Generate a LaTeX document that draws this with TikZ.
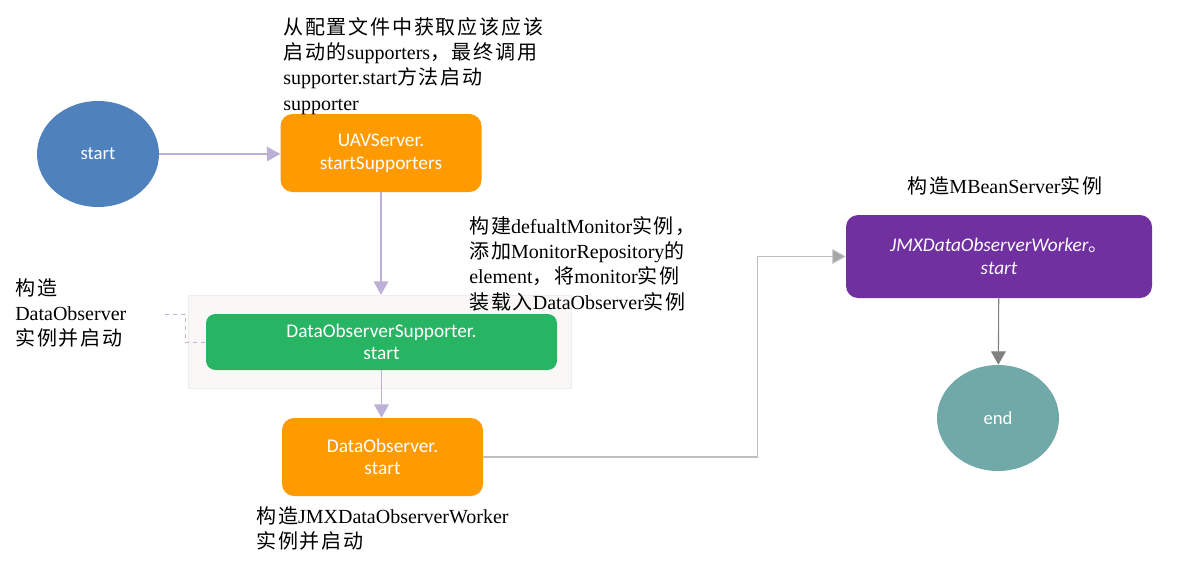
\documentclass[tikz,border=0pt]{standalone}
\usepackage{fontspec}
\setmainfont{Liberation Serif}
\newfontfamily\cjk[LetterSpace=9]{Noto Sans CJK SC}
\newfontfamily\boxfont{Carlito}
\usetikzlibrary{positioning, calc, arrows.meta, shapes.geometric}

\definecolor{startblue}{HTML}{4F81BD}
\definecolor{uavorange}{HTML}{FF9B00}
\definecolor{supgreen}{HTML}{27B463}
\definecolor{jmxpurple}{HTML}{7030A0}
\definecolor{endteal}{HTML}{71A9A9}
\definecolor{flowpurple}{HTML}{BCB0D8}
\definecolor{groupgray}{HTML}{F9F8F6}
\definecolor{groupline}{HTML}{EEEDEA}
\definecolor{linegray}{HTML}{BFBFBF}
\definecolor{tipgray}{HTML}{A6A6A6}
\definecolor{darkgray}{HTML}{808080}

\begin{document}
\begin{tikzpicture}
    [x=0.75pt, y=-0.75pt,
    roundnode/.style={ellipse, draw=none, minimum width=91.5pt, minimum height=79.5pt, text=white, font=\boxfont\fontsize{14}{16}\selectfont},
    squarednode/.style={rectangle, rounded corners=9pt, draw=none, text=white, align=center, minimum width=150.75pt, minimum height=58.5pt, font=\boxfont\fontsize{14.5}{17}\selectfont},
    groupnode/.style={rectangle, fill=groupgray, draw=groupline, minimum width=287.25pt, minimum height=69.75pt, inner sep=0pt},
    notenode/.style={align=left, anchor=north west, inner sep=0pt, font=\fontsize{15}{19}\selectfont},
    flow/.style={draw=flowpurple, line width=0.8pt, -{Triangle[length=10pt, width=11pt]}},
    grayflow/.style={draw=linegray, line width=0.8pt, -{Triangle[length=10pt, width=11pt, fill=tipgray]}},
    darkflow/.style={draw=darkgray, line width=0.8pt, -{Triangle[length=10pt, width=11pt]}},]

    \useasboundingbox (0,0) rectangle (1196,569);

    %Nodes
    \node[roundnode, fill=startblue] (start) at (98,154) {start};
    \node[squarednode, fill=uavorange] (uav) at (381,153) {UAVServer.\\startSupporters};
    \node[groupnode] (grp) at (379.5,341.5) {};
    \node[squarednode, fill=supgreen, minimum width=263.25pt, minimum height=42pt, rounded corners=7pt] (dsup) at (381.5,342) {DataObserverSupporter.\\start};
    \node[squarednode, fill=uavorange] (dobs) at (382.5,457) {DataObserver.\\start};
    \node[squarednode, fill=jmxpurple, minimum width=229.5pt, minimum height=62.25pt, font=\boxfont\itshape\fontsize{14.5}{17}\selectfont] (jmx) at (999,256.5) {JMXDataObserverWorker{\cjk 。}\\start};
    \node[roundnode, fill=endteal] (finish) at (998,418) {end};

    %Notes
    \node[notenode] (cfgnote) at (283,17) {{\cjk 从配置文件中获取应该应该}\\{\cjk 启动的}supporters{\cjk ，最终调用}\\supporter.start{\cjk 方法启动}\\supporter};
    \node[notenode] (monnote) at (469,216) {{\cjk 构建}defualtMonitor{\cjk 实例，}\\{\cjk 添加}MonitorRepository{\cjk 的}\\element{\cjk ，将}monitor{\cjk 实例}\\{\cjk 装载入}DataObserver{\cjk 实例}};
    \node[notenode] (obsnote) at (15,278) {{\cjk 构造}\\DataObserver\\{\cjk 实例并启动}};
    \node[notenode, anchor=center] (mbnote) at (1005,186) {{\cjk 构造}MBeanServer{\cjk 实例}};
    \node[notenode] (jmxnote) at (256,506) {{\cjk 构造}JMXDataObserverWorker\\{\cjk 实例并启动}};
    \coordinate (dashstart) at (165,314);

    %Connectors
    \draw[flow] (start.east) -- (start.east -| uav.west);
    \draw[flow] (uav.south) -- (uav.south |- grp.north);
    \draw[flow] (dsup.south) -- (dsup.south |- dobs.north);
    \draw[draw=flowpurple, line width=0.6pt, dashed] (dashstart) -- ++(20,0) |- (dsup.west);
    \draw[grayflow] (dobs.east) -- ++(274,0) |- (jmx.west);
    \draw[darkflow] (jmx) -- (finish);
\end{tikzpicture}
\end{document}
